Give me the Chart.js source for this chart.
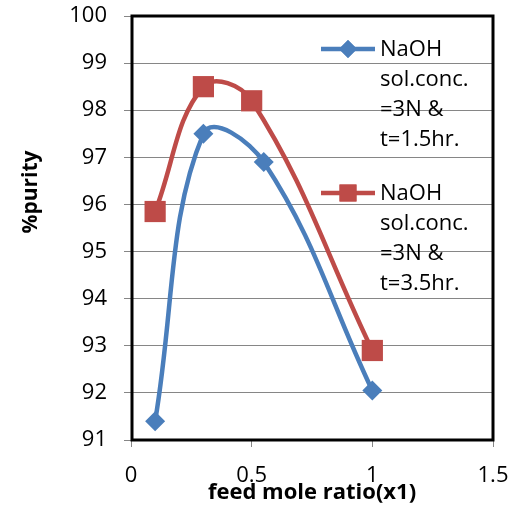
<!DOCTYPE html>
<html>
<head>
<meta charset="utf-8">
<script src="https://cdn.jsdelivr.net/npm/chart.js@4.4.0/dist/chart.umd.min.js"></script>
<style>
  html, body { margin: 0; padding: 0; background: #fff; }
  #wrap { width: 518px; height: 508px; position: relative; }
</style>
</head>
<body>
<div id="wrap"><canvas id="chart"></canvas></div>
<script>
// values
let ratio15 = [0.1, 0.3, 0.55, 1.0];
let purity15 = [91.4, 97.5, 96.9, 92.05];
let ratio35 = [0.1, 0.3, 0.5, 1.0];
let purity35 = [95.85, 98.5, 98.2, 92.9];
let label15 = ["NaOH", "sol.conc.", "=3N &", "t=1.5hr."];
let label35 = ["NaOH", "sol.conc.", "=3N &", "t=3.5hr."];
let xTicks = [0, 0.5, 1, 1.5];
let yTicks = [91, 92, 93, 94, 95, 96, 97, 98, 99, 100];
let xTitle = "feed mole ratio(x1)";
let yTitle = "%purity";

const BLUE = "#4a7ebb";
const RED = "#be4b48";
const FONT = "'Open Sans', sans-serif";

function toPoints(xs, ys)
{
    let pts = [];
    for (let i = 0; i < xs.length; i++)
    {
        pts.push({ x: xs[i], y: ys[i] });
    }
    return pts;
}

// frame round the plot, y title (sits above centre, like excel) + legend with wrapped labels
const framePlugin = {
    id: "frame",
    afterDraw(chart)
    {
        let ctx = chart.ctx;
        let a = chart.chartArea;
        ctx.save();
        ctx.strokeStyle = "#000";
        ctx.lineWidth = 3;
        ctx.strokeRect(a.left + 1, a.top, a.right - a.left - 1, a.bottom - a.top);

        ctx.save();
        ctx.translate(31, 192);
        ctx.rotate(-Math.PI / 2);
        ctx.font = "bold 21px " + FONT;
        ctx.fillStyle = "#000";
        ctx.textAlign = "center";
        ctx.textBaseline = "middle";
        ctx.fillText(yTitle, 0, 0);
        ctx.restore();

        let items = [
            { color: BLUE, style: "rectRot", r: 9, y: 49, lines: label15 },
            { color: RED, style: "rect", r: 12, y: 193, lines: label35 }
        ];
        ctx.font = "22px " + FONT;
        ctx.textBaseline = "middle";
        ctx.textAlign = "left";
        for (let it of items)
        {
            ctx.strokeStyle = it.color;
            ctx.lineWidth = 4.5;
            ctx.beginPath();
            ctx.moveTo(321, it.y);
            ctx.lineTo(375, it.y);
            ctx.stroke();
            ctx.fillStyle = it.color;
            Chart.helpers.drawPoint(ctx, { pointStyle: it.style, radius: it.r, borderWidth: 0 }, 348, it.y);
            ctx.fill();
            ctx.fillStyle = "#000";
            for (let k = 0; k < it.lines.length; k++)
            {
                ctx.fillText(it.lines[k], 380, it.y + 1 + k * 30);
            }
        }
        ctx.restore();
    }
};

let myChart = document.getElementById("chart").getContext("2d");
let display = new Chart(myChart,
{
    type: "line",
    data:
    {
        datasets: [
            {
                label: label15.join(" "),
                data: toPoints(ratio15, purity15),
                borderColor: BLUE,
                backgroundColor: BLUE,
                borderWidth: 4.5,
                tension: 0.4,
                pointStyle: "rectRot",
                pointRadius: 10,
                pointBorderWidth: 0,
                fill: false
            },
            {
                label: label35.join(" "),
                data: toPoints(ratio35, purity35),
                borderColor: RED,
                backgroundColor: RED,
                borderWidth: 4.5,
                tension: 0.4,
                pointStyle: "rect",
                pointRadius: 15,
                pointBorderWidth: 0,
                fill: false
            }
        ]
    },
    options:
    {
        responsive: true,
        maintainAspectRatio: false,
        animation: false,
        layout: { padding: { top: 16, right: 25, left: 0, bottom: 0 } },
        plugins:
        {
            legend: { display: false },
            tooltip: { enabled: false }
        },
        scales:
        {
            x:
            {
                type: "linear",
                min: 0,
                max: 1.5,
                afterBuildTicks: function(scale) { scale.ticks = xTicks.map(v => ({ value: v })); },
                afterFit: function(scale)
                {
                    scale.height = 68;
                    scale.paddingLeft = 0;
                    scale.paddingRight = 0;
                },
                grid: { drawOnChartArea: false, drawTicks: true, tickLength: 7, color: "#868686" },
                border: { color: "#868686", width: 1 },
                ticks:
                {
                    color: "#000",
                    font: { family: FONT, size: 22 },
                    padding: 16,
                    maxRotation: 0,
                    callback: function(v) { return String(v); }
                },
                title:
                {
                    display: true,
                    text: xTitle,
                    color: "#000",
                    font: { family: FONT, size: 22, weight: "bold" },
                    padding: { top: 0, bottom: 2 }
                }
            },
            y:
            {
                min: 91,
                max: 100,
                afterBuildTicks: function(scale) { scale.ticks = yTicks.map(v => ({ value: v })); },
                afterFit: function(scale)
                {
                    scale.width = 131;
                    scale.paddingTop = 0;
                    scale.paddingBottom = 0;
                },
                grid: { drawTicks: true, tickLength: 7, color: "#868686", lineWidth: 1 },
                border: { color: "#868686", width: 1 },
                ticks: { color: "#000", font: { family: FONT, size: 22 }, padding: 17 },
                title: { display: false }
            }
        }
    },
    plugins: [framePlugin]
});
</script>
</body>
</html>
